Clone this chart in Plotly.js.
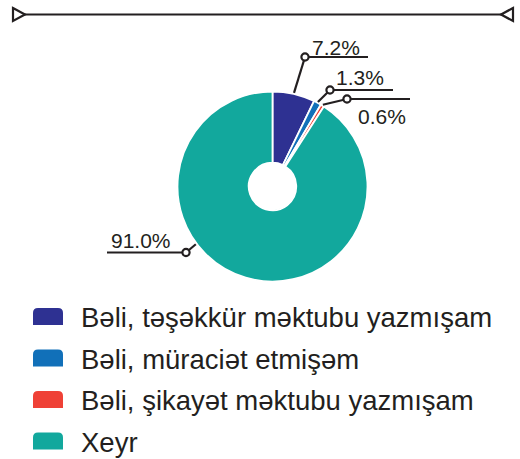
<!DOCTYPE html>
<html>
<head>
<meta charset="utf-8">
<script src="https://cdn.plot.ly/plotly-3.0.1.min.js"></script>
<style>html,body{margin:0;padding:0;background:#fff}#chart{width:520px;height:459px}</style>
</head>
<body>
<div id="chart"></div>
<script>
// ---- data ----
const categories = ["Bəli, təşəkkür məktubu yazmışam", "Bəli, müraciət etmişəm", "Bəli, şikayət məktubu yazmışam", "Xeyr"];
const values = [7.2, 1.3, 0.6, 91.0];
const colors = ["#2E3192", "#1170B9", "#EF4136", "#12A89D"];

// ---- layout geometry (pixels) ----
const W = 520, H = 459;
const cx = 272.5, cy = 186.5, R = 95;
const px = x => x / W;
const py = y => 1 - y / H;
const TXT = "#231F20";
const FONT = "Liberation Sans, Arial, sans-serif";

// label placement: elbow circle, underline span, text center; leader angle (null = slice middle)
const labelPos = [
  {ex: 305, ey: 57, u0: 305, u1: 368, tx: 336, ty: 47, ang: null},
  {ex: 330, ey: 90, u0: 330, u1: 393, tx: 360, ty: 77, ang: null},
  {ex: 347, ey: 99, u0: 347, u1: 410, tx: 381.5, ty: 116, ang: null},
  {ex: 186, ey: 252.5, u0: 107, u1: 186, tx: 141, ty: 241, ang: 233}
];

const total = values.reduce((a, b) => a + b, 0);
const shapes = [];
const annotations = [];

// top rule with triangles
shapes.push({type: "line", xref: "paper", yref: "paper", x0: px(20), x1: px(506), y0: py(14.5), y1: py(14.5), line: {color: TXT, width: 2.2}});
shapes.push({type: "path", xref: "paper", yref: "paper",
  path: `M${px(13)},${py(8)} L${px(25)},${py(14.5)} L${px(13)},${py(21)} Z`, fillcolor: "#fff", line: {color: TXT, width: 2.2}});
shapes.push({type: "path", xref: "paper", yref: "paper",
  path: `M${px(513)},${py(8)} L${px(501)},${py(14.5)} L${px(513)},${py(21)} Z`, fillcolor: "#fff", line: {color: TXT, width: 2.2}});

// leaders and labels
let cum = 0;
values.forEach((v, i) => {
  const lp = labelPos[i];
  let angDeg = lp.ang;
  if (angDeg === null) angDeg = (cum + v / 2) / total * 360;
  cum += v;
  const a = angDeg * Math.PI / 180;
  const sx = cx + (R + 1) * Math.sin(a), sy = cy - (R + 1) * Math.cos(a);
  shapes.push({type: "line", xref: "paper", yref: "paper", x0: px(lp.ex), y0: py(lp.ey), x1: px(sx), y1: py(sy), line: {color: TXT, width: 2.2}});
  shapes.push({type: "line", xref: "paper", yref: "paper", x0: px(lp.u0), x1: px(lp.u1), y0: py(lp.ey), y1: py(lp.ey), line: {color: TXT, width: 2.2}});
  const r = 3.6;
  shapes.push({type: "circle", xref: "paper", yref: "paper", x0: px(lp.ex - r), x1: px(lp.ex + r), y0: py(lp.ey - r), y1: py(lp.ey + r), fillcolor: "#fff", line: {color: TXT, width: 2.2}});
  annotations.push({xref: "paper", yref: "paper", x: px(lp.tx), y: py(lp.ty), xanchor: "center", yanchor: "middle",
    text: v.toFixed(1) + "%", showarrow: false, font: {family: FONT, size: 21, color: TXT}});
});

// custom legend
const legTop = 308, legStep = 41.5;
categories.forEach((c, i) => {
  const y0 = legTop + i * legStep, y1 = y0 + 17, x0 = 33, x1 = 63, rr = 5;
  shapes.push({type: "path", xref: "paper", yref: "paper",
    path: `M${px(x0)},${py(y1)} L${px(x0)},${py(y0 + rr)} Q${px(x0)},${py(y0)} ${px(x0 + rr)},${py(y0)} L${px(x1 - rr)},${py(y0)} Q${px(x1)},${py(y0)} ${px(x1)},${py(y0 + rr)} L${px(x1)},${py(y1)} Z`,
    fillcolor: colors[i], line: {width: 0}});
  annotations.push({xref: "paper", yref: "paper", x: px(79), y: py(y0 + 9.5), xanchor: "left", yanchor: "middle",
    text: c, showarrow: false, font: {family: FONT, size: 27.5, color: TXT}});
});

const trace = {
  type: "pie",
  labels: categories,
  values: values,
  marker: {colors: colors, line: {color: "#fff", width: 1.8}},
  hole: 0.25,
  sort: false,
  direction: "clockwise",
  rotation: 0,
  textinfo: "none",
  hoverinfo: "none",
  showlegend: false,
  domain: {x: [px(cx - R), px(cx + R)], y: [py(cy + R), py(cy - R)]}
};

const layout = {
  width: W, height: H,
  margin: {l: 0, r: 0, t: 0, b: 0},
  paper_bgcolor: "#fff",
  showlegend: false,
  shapes: shapes,
  annotations: annotations
};

Plotly.newPlot("chart", [trace], layout, {displayModeBar: false, staticPlot: true});
</script>
</body>
</html>
